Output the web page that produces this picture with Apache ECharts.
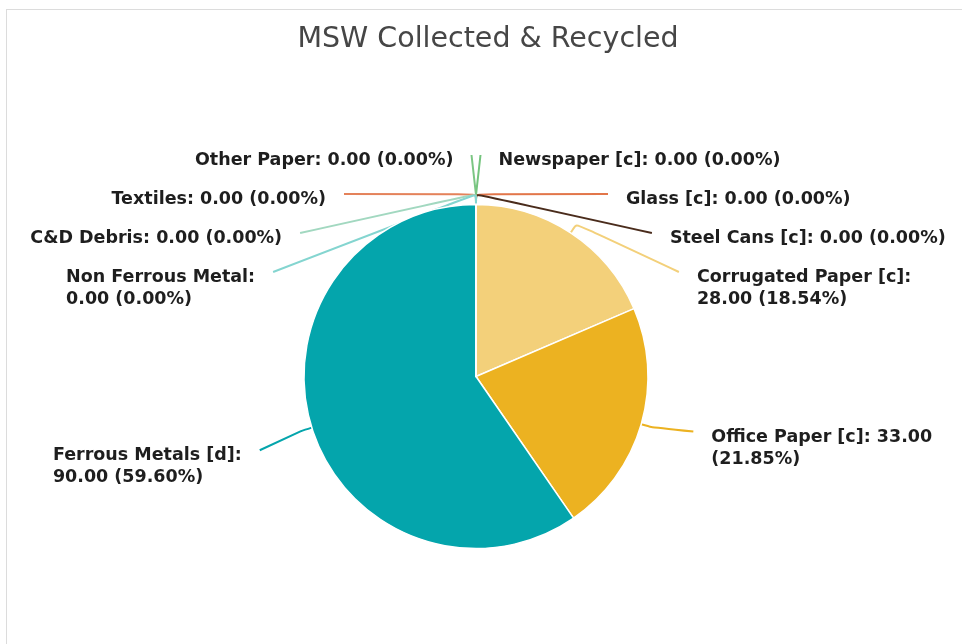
<!DOCTYPE html>
<html>
<head>
<meta charset="utf-8">
<script src="https://cdn.jsdelivr.net/npm/echarts@6/dist/echarts.min.js"></script>
<style>
html,body{margin:0;padding:0;background:#fff;overflow:hidden;}
#wrap{position:absolute;left:6px;top:9px;border:1px solid #dcdcdc;}
#chart{width:962px;height:644px;}
</style>
</head>
<body>
<div id="wrap"><div id="chart"></div></div>
<script>
// ---- data ----
const titleText = 'MSW Collected & Recycled';
const categories = ['Newspaper [c]', 'Glass [c]', 'Steel Cans [c]', 'Corrugated Paper [c]', 'Office Paper [c]', 'Ferrous Metals [d]', 'Other Paper', 'Textiles', 'C&D Debris', 'Non Ferrous Metal'];
const values = [0, 0, 0, 28, 33, 90, 0, 0, 0, 0];
const colors = ['#74c47d', '#e2764a', '#4a2c1c', '#f3d07a', '#ecb221', '#04a5ac', '#7cc684', '#e4825a', '#a2d8c0', '#84d5d0'];

// ---- layout constants ----
const W = 962, H = 644;
const CX = 469, CY = 366.5, R = 172;
const LEN = 10.5, LEN2 = 42, ROW = 39, RX = 225, EDGE_C = 4.5, GAP = 18, BLEED = 11;
const FONT_SIZE = 17.5, LINE_H = 22, FONT = 'DejaVu Sans', TEXT_DROP = 5.5;

const total = values.reduce((a, b) => a + b, 0);
const pct = v => (v / total * 100).toFixed(2);
const labelText = i => categories[i] + ': ' + values[i].toFixed(2) + ' (' + pct(values[i]) + '%)';

const ctx = document.createElement('canvas').getContext('2d');
ctx.font = 'bold ' + FONT_SIZE + 'px "' + FONT + '"';
const tw = s => ctx.measureText(s).width;
function wrap(text, maxW) {
  const words = text.split(' ');
  const lines = [];
  let cur = '';
  words.forEach(w => {
    const t = cur ? cur + ' ' + w : w;
    if (cur && tw(t) > maxW) { lines.push(cur); cur = w; } else { cur = t; }
  });
  if (cur) lines.push(cur);
  return lines;
}

// geometry of each slice's label (classic pie outer-label layout)
let acc = 0;
const lay = categories.map((name, i) => {
  const a0 = acc / total * 2 * Math.PI; acc += values[i];
  const a1 = acc / total * 2 * Math.PI;
  const th = (a0 + a1) / 2;
  const nx = Math.sin(th), ny = -Math.cos(th);
  const side = th < Math.PI ? 1 : -1;
  const p0 = [CX + R * nx, CY + R * ny];
  const p1 = [CX + (R + LEN) * nx, CY + (R + LEN) * ny];
  return { i, side, p0, p1, top: p1[1] - ROW / 2 };
});

function stack(list) {
  const n = list.length;
  if (n < 2) return;
  function shiftUp(end, d) {
    for (let j = end; j >= 0; j--) {
      list[j].top -= d;
      if (j > 0 && list[j].top > list[j - 1].top + ROW) break;
    }
  }
  function shiftDown(start, d) {
    for (let j = start; j < n; j++) {
      list[j].top += d;
      if (j > start && j + 1 < n && list[j + 1].top > list[j].top + ROW) { shiftUp(j, d / 2); return; }
    }
    shiftUp(n - 1, d / 2);
  }
  let lastY = 0;
  for (let i = 0; i < n; i++) {
    const d = list[i].top - lastY;
    if (d < 0) shiftDown(i, -d);
    lastY = list[i].top + ROW;
  }
}

[1, -1].forEach(side => {
  const list = lay.filter(l => l.side === side).sort((a, b) => (a.top - b.top) || (a.i - b.i));
  stack(list);
  list.forEach(l => { l.y = l.top + ROW / 2; });
  const upper = list.filter(l => l.y < CY);
  const rB = Math.max(...upper.map(l => CY - l.y));
  list.forEach(l => {
    let px;
    if (l.y < CY) {
      const dy = CY - l.y;
      px = CX + side * (RX * Math.sqrt(Math.max(0, 1 - dy * dy / (rB * rB))) + EDGE_C);
    } else {
      px = l.p1[0] + side * LEN2;
    }
    l.p2 = [px, l.y];
    const text = labelText(l.i);
    if (side > 0) {
      l.textX = px + GAP;
      l.lines = wrap(text, W - l.textX - BLEED);
    } else {
      const right = px - GAP;
      l.lines = wrap(text, right - BLEED);
      l.textX = right - Math.max(...l.lines.map(tw));
    }
    l.textTop = l.y + TEXT_DROP - LINE_H / 2;
  });
});

const chart = echarts.init(document.getElementById('chart'));
chart.setOption({
  animation: false,
  backgroundColor: '#fff',
  title: {
    text: titleText,
    left: 'center',
    top: 10,
    textStyle: { fontFamily: FONT, fontSize: 28.5, fontWeight: 'normal', color: '#464646' }
  },
  series: [{
    type: 'pie',
    center: [CX, CY],
    radius: R,
    startAngle: 90,
    clockwise: true,
    avoidLabelOverlap: false,
    data: categories.map((c, i) => ({ name: c, value: values[i], itemStyle: { color: colors[i] } })),
    itemStyle: { borderColor: '#fff', borderWidth: 1.5 },
    label: {
      show: true,
      fontFamily: FONT,
      fontWeight: 'bold',
      fontSize: FONT_SIZE,
      lineHeight: LINE_H,
      color: '#1e1e1e',
      formatter: p => lay[p.dataIndex].lines.join('\n')
    },
    labelLine: { show: true, length: LEN, length2: LEN2, smooth: 0.2, lineStyle: { width: 2 } },
    labelLayout: p => {
      const l = lay[p.dataIndex];
      return { x: l.textX, y: l.textTop, align: 'left', verticalAlign: 'top', labelLinePoints: [l.p0, l.p1, l.p2] };
    }
  }]
});
</script>
</body>
</html>
